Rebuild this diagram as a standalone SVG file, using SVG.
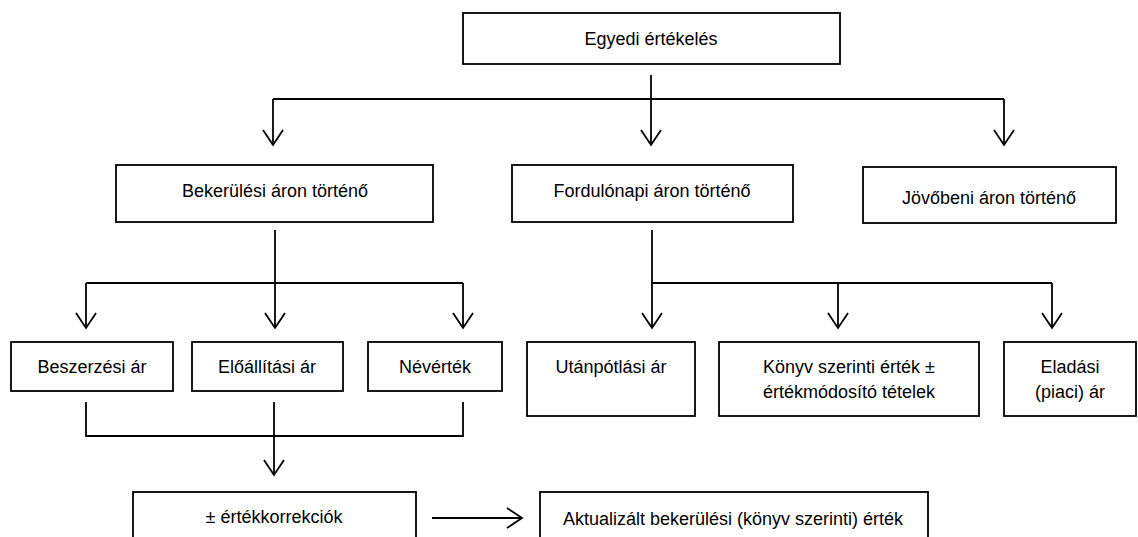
<svg xmlns="http://www.w3.org/2000/svg" width="1138" height="537" viewBox="0 0 1138 537">
<style>
.b{fill:#fff;stroke:#000;stroke-width:1.8}
.t{font-family:"Liberation Sans",Arial,sans-serif;font-size:18px;fill:#000;text-anchor:middle}
.c line,.c polyline{stroke:#000;stroke-width:1.8;fill:none}
</style>
<rect width="1138" height="537" fill="#fff"/>
<g class="c" id="connectors">
<line x1="651" y1="75" x2="651" y2="145"/>
<line x1="273" y1="99" x2="1004" y2="99"/>
<line x1="273" y1="99" x2="273" y2="145"/>
<line x1="1004" y1="99" x2="1004" y2="145"/>
<polyline points="263,130 273,145 283,130"/>
<polyline points="641,130 651,145 661,130"/>
<polyline points="994,130 1004,145 1014,130"/>
<line x1="275" y1="230" x2="275" y2="328"/>
<line x1="86" y1="283" x2="463" y2="283"/>
<line x1="86" y1="283" x2="86" y2="328"/>
<line x1="463" y1="283" x2="463" y2="328"/>
<polyline points="76,313 86,328 96,313"/>
<polyline points="265,313 275,328 285,313"/>
<polyline points="453,313 463,328 473,313"/>
<line x1="652" y1="230" x2="652" y2="328"/>
<line x1="652" y1="283" x2="1052" y2="283"/>
<line x1="838" y1="283" x2="838" y2="328"/>
<line x1="1052" y1="283" x2="1052" y2="328"/>
<polyline points="642,313 652,328 662,313"/>
<polyline points="828,313 838,328 848,313"/>
<polyline points="1042,313 1052,328 1062,313"/>
<polyline points="86,402 86,436 463,436 463,402"/>
<line x1="274" y1="402" x2="274" y2="475"/>
<polyline points="264,460 274,475 284,460"/>
<line x1="432" y1="518" x2="522" y2="518"/>
<polyline points="507,508 522,518 507,528"/>
</g>
<g id="egyedi"><rect class="b" x="463" y="13" width="377" height="51"/><text class="t" x="651" y="45">Egyedi értékelés</text></g>
<g id="bekerulesi"><rect class="b" x="116" y="165" width="317" height="57"/><text class="t" x="275" y="197">Bekerülési áron történő</text></g>
<g id="fordulonapi"><rect class="b" x="512" y="165" width="281" height="57"/><text class="t" x="652" y="197">Fordulónapi áron történő</text></g>
<g id="jovobeni"><rect class="b" x="863" y="167" width="253" height="56"/><text class="t" x="989" y="204">Jövőbeni áron történő</text></g>
<g id="beszerzesi"><rect class="b" x="11" y="342" width="162" height="49"/><text class="t" x="92" y="373">Beszerzési ár</text></g>
<g id="eloallitasi"><rect class="b" x="192" y="342" width="151" height="49"/><text class="t" x="267" y="373">Előállítási ár</text></g>
<g id="nevertek"><rect class="b" x="368" y="342" width="134" height="49"/><text class="t" x="435" y="373">Névérték</text></g>
<g id="utanpotlasi"><rect class="b" x="527" y="342" width="168" height="74"/><text class="t" x="611" y="373">Utánpótlási ár</text></g>
<g id="konyv"><rect class="b" x="719" y="342" width="260" height="74"/><text class="t" x="849" y="373">Könyv szerinti érték ±</text><text class="t" x="849" y="398">értékmódosító tételek</text></g>
<g id="eladasi"><rect class="b" x="1004" y="342" width="132" height="74"/><text class="t" x="1070" y="373">Eladási</text><text class="t" x="1070" y="398">(piaci) ár</text></g>
<g id="korrekciok"><rect class="b" x="133" y="492" width="283" height="60"/><text class="t" x="274" y="523">± értékkorrekciók</text></g>
<g id="aktualizalt"><rect class="b" x="540" y="492" width="388" height="60"/><text class="t" x="733" y="525">Aktualizált bekerülési (könyv szerinti) érték</text></g>
</svg>
